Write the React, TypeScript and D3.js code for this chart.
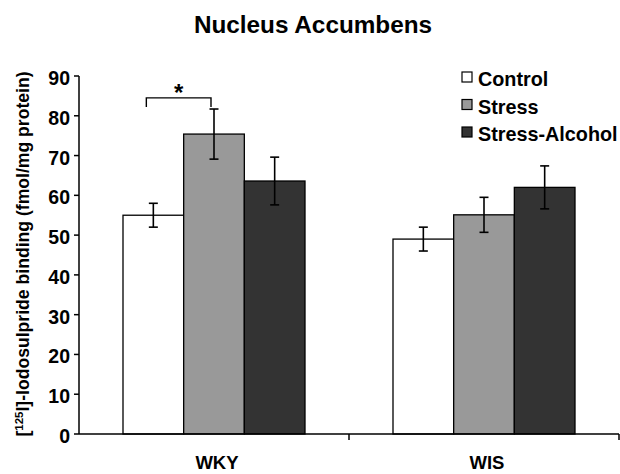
import React from "react";
import * as d3 from "d3";

const categories = ["WKY", "WIS"];
const seriesNames = ["Control", "Stress", "Stress-Alcohol"];
const seriesColors = ["#ffffff", "#999999", "#333333"];
const controlValues = [55, 49];
const stressValues = [75.4, 55.1];
const stressAlcoholValues = [63.6, 62.0];
const controlErrors = [3.0, 3.0];
const stressErrors = [6.3, 4.4];
const stressAlcoholErrors = [6.0, 5.4];
const yTicks = [0, 10, 20, 30, 40, 50, 60, 70, 80, 90];

const W = 620;
const H = 474;
const FONT = "'Liberation Sans', Arial, Helvetica, sans-serif";

export default function App() {
  const x = d3.scaleBand<string>().domain(categories).range([79, 619]).padding(0);
  const y = d3.scaleLinear().domain([0, 90]).range([434, 76]);
  const groupW = 182;
  const inner = d3
    .scaleBand<string>()
    .domain(seriesNames)
    .range([(x.bandwidth() - groupW) / 2, (x.bandwidth() + groupW) / 2])
    .padding(0);

  const values = [controlValues, stressValues, stressAlcoholValues];
  const errors = [controlErrors, stressErrors, stressAlcoholErrors];

  const bars: any[] = [];
  categories.forEach((c, ci) => {
    seriesNames.forEach((s, si) => {
      bars.push({
        c,
        s,
        v: values[si][ci],
        e: errors[si][ci],
        x0: (x(c) as number) + (inner(s) as number),
        w: inner.bandwidth(),
        color: seriesColors[si],
      });
    });
  });

  // significance bracket between WKY Control and WKY Stress
  const cX = (x("WKY") as number) + (inner("Control") as number) + inner.bandwidth() / 2;
  const sX = (x("WKY") as number) + (inner("Stress") as number) + inner.bandwidth() / 2;
  const bL = cX - 7;
  const bR = sX - 3;
  const bY = y(84.5);
  const bY2 = y(82.2);

  return (
    <svg width={W} height={H} style={{ position: "absolute", left: 0, top: 0, background: "#fff" }}>
      <rect x={0} y={0} width={W} height={H} fill="#fff" />
      <text x={313} y={33} textAnchor="middle" fontFamily={FONT} fontWeight="bold" fontSize={24.3} fill="#000">
        Nucleus Accumbens
      </text>

      {/* bars */}
      {bars.map((b, i) => (
        <rect
          key={"b" + i}
          x={b.x0}
          y={y(b.v)}
          width={b.w}
          height={y(0) - y(b.v)}
          fill={b.color}
          stroke="#000"
          strokeWidth={1.3}
        />
      ))}
      {/* error bars */}
      {bars.map((b, i) => {
        const cx = b.x0 + b.w / 2;
        return (
          <g key={"e" + i} stroke="#000" strokeWidth={1.6}>
            <line x1={cx} x2={cx} y1={y(b.v + b.e)} y2={y(b.v - b.e)} />
            <line x1={cx - 4.5} x2={cx + 4.5} y1={y(b.v + b.e)} y2={y(b.v + b.e)} />
            <line x1={cx - 4.5} x2={cx + 4.5} y1={y(b.v - b.e)} y2={y(b.v - b.e)} />
          </g>
        );
      })}

      {/* axes */}
      <g stroke="#000" strokeWidth={1.5} fill="none">
        <line x1={79} x2={79} y1={y(90)} y2={y(0)} />
        <line x1={79} x2={619} y1={y(0)} y2={y(0)} />
        {yTicks.map((t) => (
          <line key={"yt" + t} x1={74} x2={79} y1={y(t)} y2={y(t)} />
        ))}
        {categories.map((c) => (
          <line key={"xt" + c} x1={(x(c) as number) + x.bandwidth()} x2={(x(c) as number) + x.bandwidth()} y1={y(0)} y2={y(0) + 6} />
        ))}
      </g>
      {yTicks.map((t) => (
        <text
          key={"yl" + t}
          x={70}
          y={y(t) + 2}
          dy="0.36em"
          textAnchor="end"
          fontFamily={FONT}
          fontWeight="bold"
          fontSize={19.5}
          fill="#000"
        >
          {t}
        </text>
      ))}
      {categories.map((c) => (
        <text
          key={"xl" + c}
          x={(x(c) as number) + x.bandwidth() / 2 + 3}
          y={469}
          textAnchor="middle"
          fontFamily={FONT}
          fontWeight="bold"
          fontSize={18.5}
          fill="#000"
        >
          {c}
        </text>
      ))}

      {/* y label */}
      <text
        transform={`translate(29,254) rotate(-90)`}
        textAnchor="middle"
        fontFamily={FONT}
        fontWeight="bold"
        fontSize={17.6}
        fill="#000"
      >
        [<tspan dy={-6} fontSize={11.5}>125</tspan>
        <tspan dy={6}>I]-Iodosulpride binding (fmol/mg protein)</tspan>
      </text>

      {/* significance bracket */}
      <path d={`M${bL},${bY2}V${bY}H${bR}V${bY2}`} stroke="#000" strokeWidth={1.4} fill="none" />
      <text x={(bL + bR) / 2} y={bY + 3} textAnchor="middle" fontFamily={FONT} fontWeight="bold" fontSize={24} fill="#000">
        *
      </text>

      {/* legend */}
      {seriesNames.map((s, i) => {
        const base = 86 + i * 27.5;
        return (
          <g key={"lg" + s}>
            <rect x={462} y={base - 14} width={10} height={10} fill={seriesColors[i]} stroke="#000" strokeWidth={1.2} />
            <text x={478} y={base} fontFamily={FONT} fontWeight="bold" fontSize={19.8} fill="#000">
              {s}
            </text>
          </g>
        );
      })}
    </svg>
  );
}
